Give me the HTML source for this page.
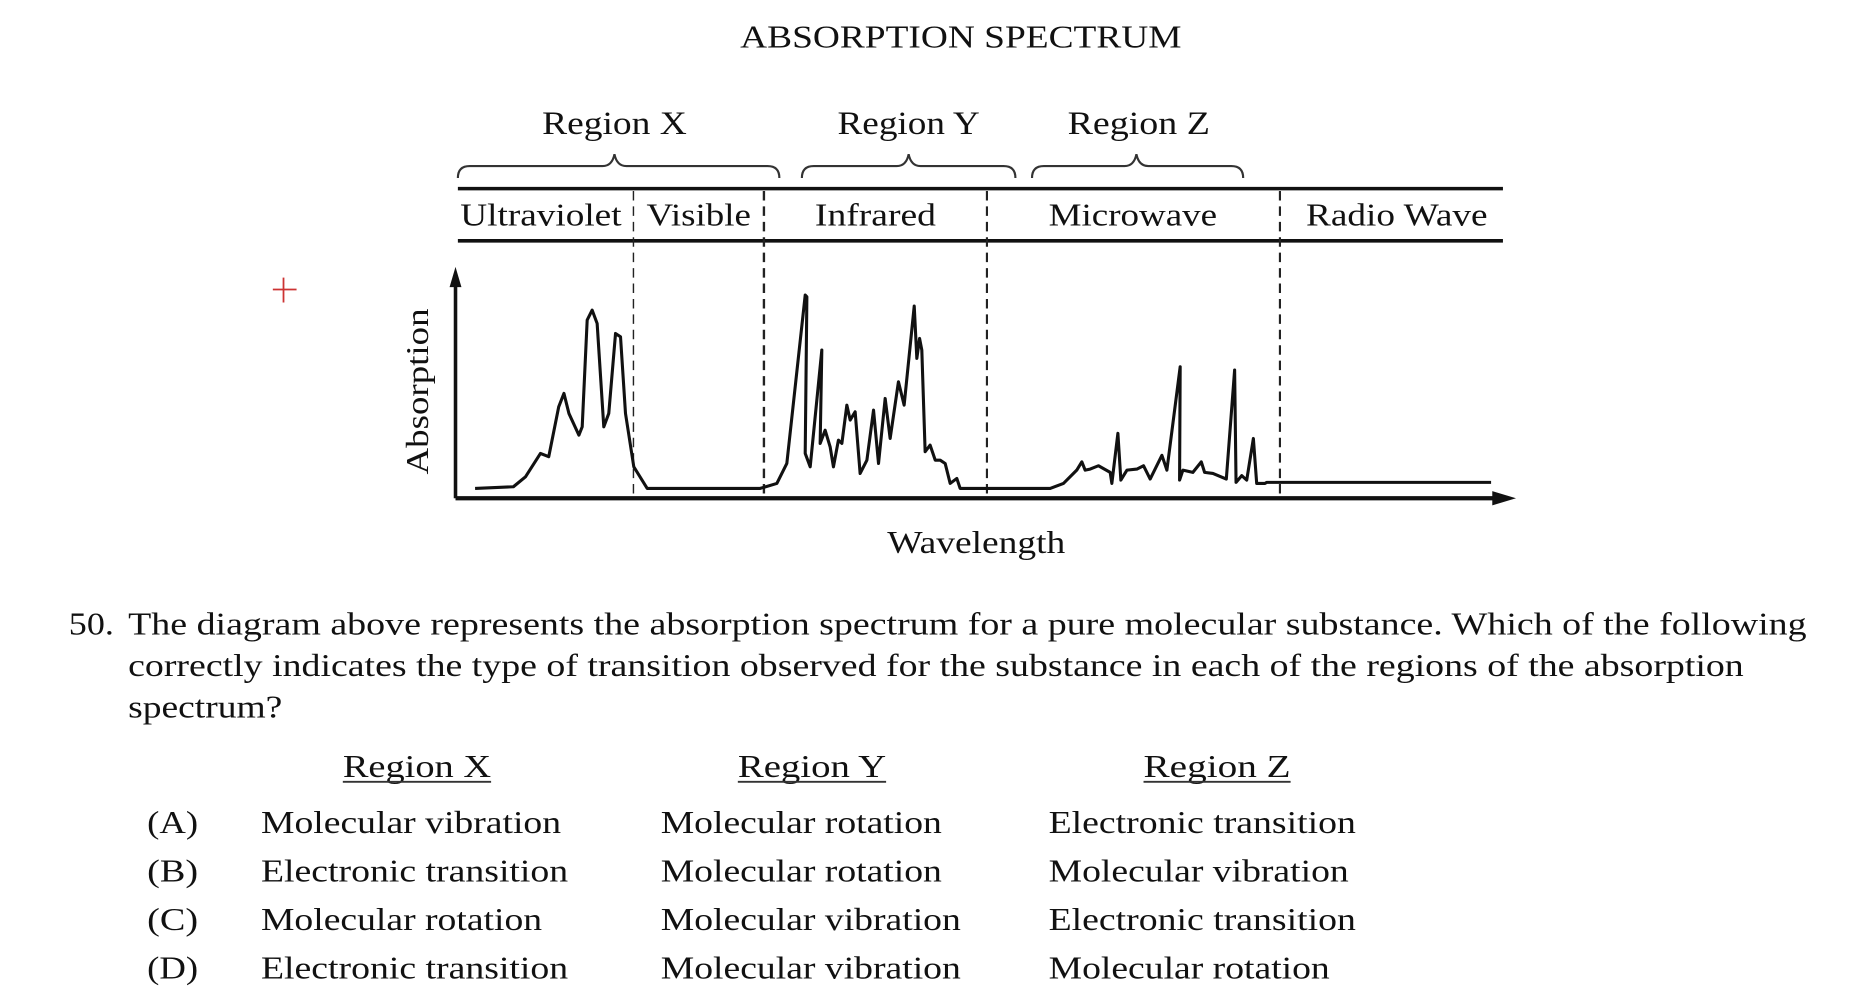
<!DOCTYPE html>
<html><head><meta charset="utf-8"><style>
html,body{margin:0;padding:0;background:#fff;}
svg{display:block;}
text{font-family:"Liberation Serif",serif;fill:#111;}
</style></head><body>
<svg width="1860" height="1006" viewBox="0 0 1568 848" preserveAspectRatio="none" xmlns="http://www.w3.org/2000/svg">
<rect width="1568" height="848" fill="#fff"/>
<text x="810" y="40" font-size="27" text-anchor="middle" textLength="372" lengthAdjust="spacingAndGlyphs">ABSORPTION SPECTRUM</text>
<text x="518" y="113" font-size="28" text-anchor="middle" textLength="122" lengthAdjust="spacingAndGlyphs">Region X</text>
<text x="766" y="113" font-size="28" text-anchor="middle" textLength="120" lengthAdjust="spacingAndGlyphs">Region Y</text>
<text x="960" y="113" font-size="28" text-anchor="middle" textLength="120" lengthAdjust="spacingAndGlyphs">Region Z</text>
<g fill="none" stroke="#333" stroke-width="1.8">
<path d="M386 150 Q386 140 396 140 L508 140 Q516 140 518 130 Q520 140 528 140 L647 140 Q657 140 657 150"/>
<path d="M676 150 Q676 140 686 140 L756 140 Q764 140 766 130 Q768 140 776 140 L846 140 Q856 140 856 150"/>
<path d="M870 150 Q870 140 880 140 L948 140 Q956 140 958 130 Q960 140 968 140 L1038 140 Q1048 140 1048 150"/>
</g>
<line x1="386" y1="159" x2="1267" y2="159" stroke="#111" stroke-width="3"/>
<line x1="386" y1="203" x2="1267" y2="203" stroke="#111" stroke-width="3"/>
<text x="388" y="190" font-size="27" textLength="136" lengthAdjust="spacingAndGlyphs">Ultraviolet</text>
<text x="545" y="190" font-size="27" textLength="88" lengthAdjust="spacingAndGlyphs">Visible</text>
<text x="687" y="190" font-size="27" textLength="102" lengthAdjust="spacingAndGlyphs">Infrared</text>
<text x="884" y="190" font-size="27" textLength="142" lengthAdjust="spacingAndGlyphs">Microwave</text>
<text x="1101" y="190" font-size="27" textLength="153" lengthAdjust="spacingAndGlyphs">Radio Wave</text>
<g stroke="#222" stroke-dasharray="8,5">
<line x1="534" y1="161" x2="534" y2="420" stroke-width="1.2"/>
<line x1="644" y1="161" x2="644" y2="420" stroke-width="2"/>
<line x1="832" y1="161" x2="832" y2="420" stroke-width="1.8"/>
<line x1="1079" y1="161" x2="1079" y2="420" stroke-width="1.8"/>
</g>
<line x1="384" y1="420" x2="384" y2="238" stroke="#111" stroke-width="3"/>
<polygon points="384,225 379,242 389,242" fill="#111"/>
<line x1="384" y1="420" x2="1262" y2="420" stroke="#111" stroke-width="3.5"/>
<polygon points="1278,420 1258,414 1258,426" fill="#111"/>
<text transform="translate(361,330) rotate(-90)" font-size="27" text-anchor="middle" textLength="140" lengthAdjust="spacingAndGlyphs">Absorption</text>
<text x="823" y="466" font-size="27" text-anchor="middle" textLength="150" lengthAdjust="spacingAndGlyphs">Wavelength</text>
<g fill="none" stroke="#111" stroke-width="2.6" stroke-linejoin="round">
<polyline points="400.5,411.7 432.8,410.3 443,401.9 455.6,382.2 462.6,385 471,342.9 475.4,331.6 479.6,348.5 488,366.8 490.8,359.8 495,269.8 499.2,261.4 503.4,272.7 509,359.8 513.2,348.5 518.9,281.1 523.1,283.9 527.3,348.5 534.3,393.5 545.6,411.7 640.8,411.7 654.9,407.5 663.3,390.7 678.8,248.7 680.2,250.2 678.8,382.2 683,393.5 692.8,295.1 691.4,373.8 695.6,362.6 699.8,376.6 702.6,393.5 706.8,371 709.7,373.8 713.9,341.5 716.7,354.1 720.9,347.1 725.1,399.1 730.8,387.9 736.4,345.7 740.6,390.7 746.2,335.9 750.4,369.6 757.4,321.8 762.2,341.5 770.7,258 772.9,302.1 775.2,285.3 777.1,295.1 779.9,380.8 784.1,375.2 788.4,387.9 792.6,387.9 796.8,390.7 801,407.5 806.6,403.3 809.4,411.7 885.3,411.7 896.5,407.5 907.7,396.3 912,389.3 914.8,396.3 919,395.4 926,392.6 935.9,398.2 937.3,407.5 942.4,365.3 944.9,404.7 950,396.3 958.4,395.4 964,392.6 969.6,403.8 979.5,383.8 983.7,396.3 994.9,309.2 994.4,404.7 997.2,396.3 1005.6,398.2 1012.7,389.3 1015.5,398.2 1022.5,399.1 1033.8,403.8 1040.8,311.9 1042,406.6 1046.8,400.9 1051,404.7 1056.6,369.6 1059.4,407.5 1066.4,407.5 1067.9,406.6 1257,406.6"/>
</g>
<line x1="230" y1="244" x2="250" y2="244" stroke="#c33" stroke-width="1.5"/>
<line x1="239" y1="234" x2="239" y2="255" stroke="#c33" stroke-width="1.5"/>
<g font-size="27">
<text x="58" y="535" textLength="38" lengthAdjust="spacingAndGlyphs">50.</text>
<text x="108" y="535" textLength="1415" lengthAdjust="spacingAndGlyphs">The diagram above represents the absorption spectrum for a pure molecular substance. Which of the following</text>
<text x="108" y="570" textLength="1362" lengthAdjust="spacingAndGlyphs">correctly indicates the type of transition observed for the substance in each of the regions of the absorption</text>
<text x="108" y="605" textLength="130" lengthAdjust="spacingAndGlyphs">spectrum?</text>
<text x="289" y="655" textLength="125" lengthAdjust="spacingAndGlyphs">Region X</text>
<text x="622" y="655" textLength="125" lengthAdjust="spacingAndGlyphs">Region Y</text>
<text x="964" y="655" textLength="124" lengthAdjust="spacingAndGlyphs">Region Z</text>
<text x="124" y="702" textLength="43" lengthAdjust="spacingAndGlyphs">(A)</text>
<text x="124" y="743" textLength="43" lengthAdjust="spacingAndGlyphs">(B)</text>
<text x="124" y="784" textLength="43" lengthAdjust="spacingAndGlyphs">(C)</text>
<text x="124" y="825" textLength="43" lengthAdjust="spacingAndGlyphs">(D)</text>
<text x="220" y="702" textLength="253" lengthAdjust="spacingAndGlyphs">Molecular vibration</text>
<text x="220" y="743" textLength="259" lengthAdjust="spacingAndGlyphs">Electronic transition</text>
<text x="220" y="784" textLength="237" lengthAdjust="spacingAndGlyphs">Molecular rotation</text>
<text x="220" y="825" textLength="259" lengthAdjust="spacingAndGlyphs">Electronic transition</text>
<text x="557" y="702" textLength="237" lengthAdjust="spacingAndGlyphs">Molecular rotation</text>
<text x="557" y="743" textLength="237" lengthAdjust="spacingAndGlyphs">Molecular rotation</text>
<text x="557" y="784" textLength="253" lengthAdjust="spacingAndGlyphs">Molecular vibration</text>
<text x="557" y="825" textLength="253" lengthAdjust="spacingAndGlyphs">Molecular vibration</text>
<text x="884" y="702" textLength="259" lengthAdjust="spacingAndGlyphs">Electronic transition</text>
<text x="884" y="743" textLength="253" lengthAdjust="spacingAndGlyphs">Molecular vibration</text>
<text x="884" y="784" textLength="259" lengthAdjust="spacingAndGlyphs">Electronic transition</text>
<text x="884" y="825" textLength="237" lengthAdjust="spacingAndGlyphs">Molecular rotation</text>
</g>
<g stroke="#333" stroke-width="1.6">
<line x1="289" y1="659" x2="414" y2="659"/>
<line x1="622" y1="659" x2="747" y2="659"/>
<line x1="964" y1="659" x2="1088" y2="659"/>
</g>
</svg>
</body></html>
